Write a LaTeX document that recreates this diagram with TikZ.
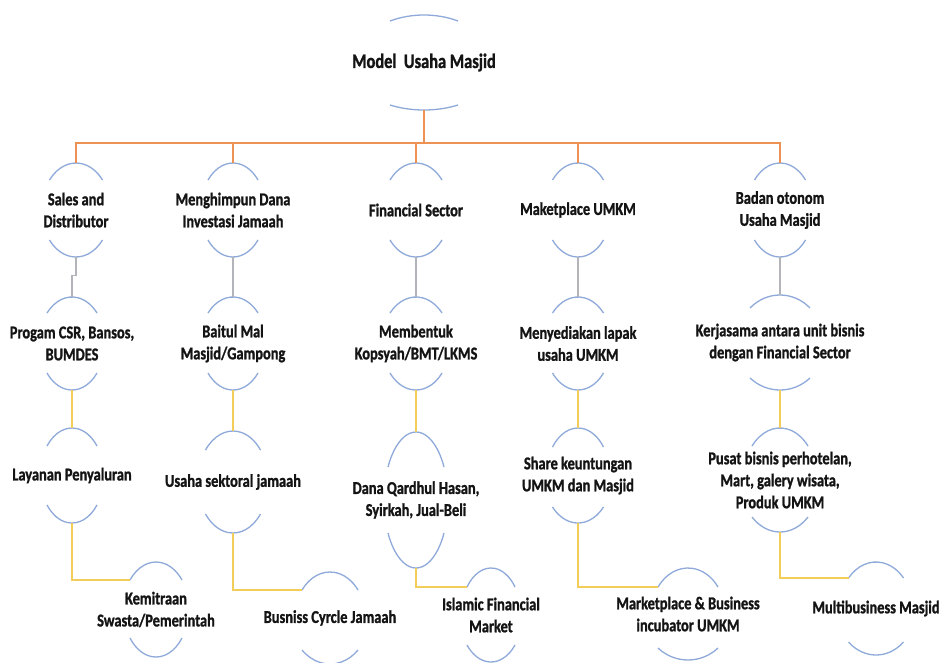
\documentclass[tikz,border=0pt]{standalone}
\usepackage{fontspec}
\newfontfamily\lblfont{Carlito}[FakeStretch=0.8, FakeBold=1.2]
\usetikzlibrary{calc}
\definecolor{arcc}{RGB}{143,170,218}
\definecolor{orc}{RGB}{237,145,85}
\definecolor{gyc}{RGB}{178,180,186}
\definecolor{ylc}{RGB}{243,205,90}
\tikzset{
  lbl/.style={inner sep=0pt, align=center, font=\lblfont\bfseries\fontsize{18}{22}\selectfont, text=black!92},
  rootlbl/.style={lbl, font=\lblfont\bfseries\fontsize{20.5}{24}\selectfont},
  arcst/.style={draw=arcc, line width=1.3pt},
  orline/.style={draw=orc, line width=1.6pt},
  gyline/.style={draw=gyc, line width=1.2pt},
  ylline/.style={draw=ylc, line width=1.6pt},
}
% #1 name, #2 cx, #3 top y, #4 bottom y, #5 half width of arcs, #6 top drop, #7 bottom drop, #8 style, #9 text
\newcommand\ovnode[9]{%
  \pgfmathsetmacro\ovry{(#4-#3)/2}%
  \pgfmathsetmacro\ovcy{(#4+#3)/2}%
  \node[#8, minimum height={(#4-#3)*1pt}] (#1) at (#2,\ovcy) {#9};
  \coordinate (#1-l) at (#2-#5, #3+#6);
  \pgfmathsetmacro\ovat{acos(1-#6/\ovry)}%
  \pgfmathsetmacro\ovrxt{#5/sin(\ovat)}%
  \draw[arcst] (#1-l) arc[start angle=270-\ovat, end angle=270+\ovat, x radius=\ovrxt, y radius=\ovry];
  \pgfmathsetmacro\ovab{acos(1-#7/\ovry)}%
  \pgfmathsetmacro\ovrxb{#5/sin(\ovab)}%
  \draw[arcst] (#2+#5, #4-#7) arc[start angle=90-\ovab, end angle=90+\ovab, x radius=\ovrxb, y radius=\ovry];
}
\begin{document}
\begin{tikzpicture}[x=1pt, y=-1pt]
\useasboundingbox[fill=white] (0,0) rectangle (944,662);
% root
\ovnode{R}{424}{15}{110}{34}{6}{5}{rootlbl}{Model~~Usaha Masjid}
% level 1
\ovnode{A1}{76}{163}{257}{26.5}{17}{17}{lbl}{Sales and\\Distributor}
\ovnode{B1}{233}{163}{257}{25}{17}{17}{lbl}{Menghimpun Dana\\Investasi Jamaah}
\ovnode{C1}{416}{163}{257}{26}{17}{17}{lbl}{Financial Sector}
\ovnode{D1}{578}{163}{257}{25.5}{17}{17}{lbl}{Maketplace UMKM}
\ovnode{E1}{780}{163}{257}{25.5}{17}{17}{lbl}{Badan otonom\\Usaha Masjid}
% level 2
\ovnode{A2}{72}{297}{390}{25}{16}{17}{lbl}{Progam CSR, Bansos,\\BUMDES}
\ovnode{B2}{233}{297}{390}{25}{16}{17}{lbl}{Baitul Mal\\Masjid/Gampong}
\ovnode{C2}{416}{297}{390}{26}{16}{17}{lbl}{Membentuk\\Kopsyah/BMT/LKMS}
\ovnode{D2}{578}{297}{390}{25.5}{16}{17}{lbl}{Menyediakan lapak\\usaha UMKM}
\ovnode{E2}{780}{295}{390}{30}{13}{12}{lbl}{Kerjasama antara unit bisnis\\dengan Financial Sector}
% level 3
\ovnode{A3}{72}{428}{523}{25}{18}{18}{lbl}{Layanan Penyaluran}
\ovnode{B3}{233}{431}{533}{27.5}{19}{19}{lbl}{Usaha sektoral jamaah}
\ovnode{C3}{416}{432}{568}{28}{35}{35}{lbl}{Dana Qardhul Hasan,\\Syirkah, Jual-Beli}
\ovnode{D3}{578}{428}{523}{25.5}{19}{16}{lbl}{Share keuntungan\\UMKM dan Masjid}
\ovnode{E3}{780}{428}{532}{28}{18}{15}{lbl}{Pusat bisnis perhotelan,\\Mart, galery wisata,\\Produk UMKM}
% level 4
\ovnode{A4}{156}{562}{657}{26}{18}{19}{lbl}{Kemitraan\\Swasta/Pemerintah}
\ovnode{B4}{330}{572}{664}{28}{18}{14}{lbl}{Busniss Cyrcle Jamaah}
\ovnode{C4}{491}{568}{662}{24}{19}{17}{lbl}{Islamic Financial\\Market}
\ovnode{D4}{688}{568}{660}{30}{19}{12}{lbl}{Marketplace \& Business\\incubator UMKM}
\ovnode{E4}{876}{562}{655}{27.5}{16}{13}{lbl}{Multibusiness Masjid}
% root to level 1
\coordinate (bus) at ($(R.south)+(0,33)$);
\draw[orline] (R.south) -- (bus);
\draw[orline] (bus) -| (A1.north);
\draw[orline] (bus) -| (B1.north);
\draw[orline] (bus) -| (C1.north);
\draw[orline] (bus) -| (D1.north);
\draw[orline] (bus) -| (E1.north);
% level 1 to level 2
\draw[gyline] (A1.south) -- ++(0,18) -| (A2.north);
\draw[gyline] (B1.south) -- (B2.north);
\draw[gyline] (C1.south) -- (C2.north);
\draw[gyline] (D1.south) -- (D2.north);
\draw[gyline] (E1.south) -- (E2.north);
% level 2 to level 3
\draw[ylline] (A2.south) -- (A3.north);
\draw[ylline] (B2.south) -- (B3.north);
\draw[ylline] (C2.south) -- (C3.north);
\draw[ylline] (D2.south) -- (D3.north);
\draw[ylline] (E2.south) -- (E3.north);
% level 3 to level 4
\draw[ylline] (A3.south) |- (A4-l);
\draw[ylline] (B3.south) |- (B4-l);
\draw[ylline] (C3.south) |- (C4-l);
\draw[ylline] (D3.south) |- (D4-l);
\draw[ylline] (E3.south) |- (E4-l);
\end{tikzpicture}
\end{document}
